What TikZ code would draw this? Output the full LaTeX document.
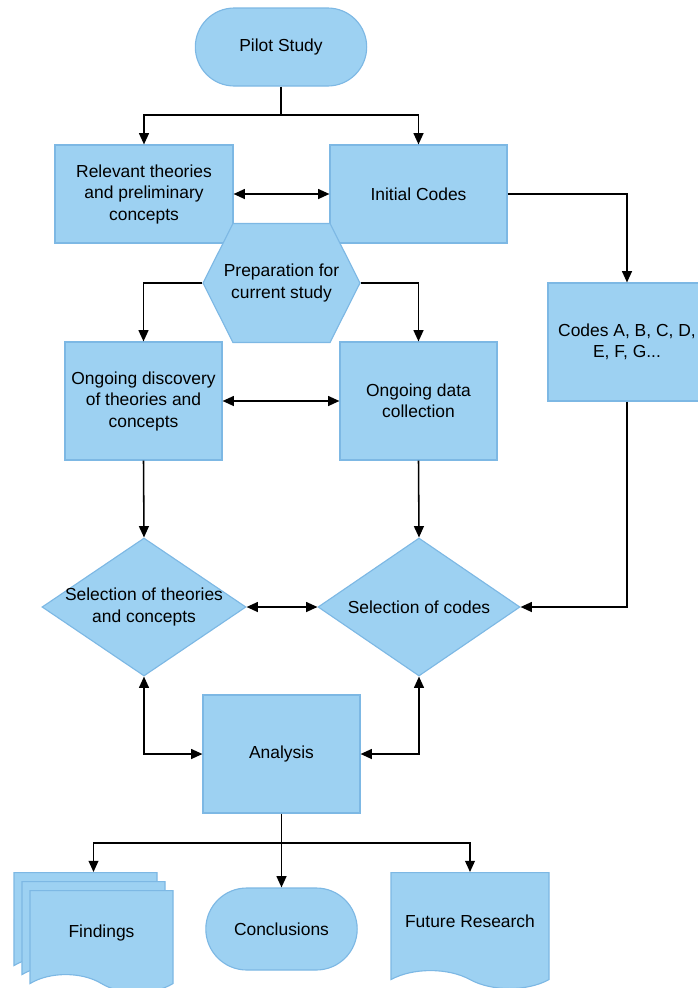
\documentclass[tikz,border=0pt]{standalone}
\usepackage{fontspec}
\setmainfont{Liberation Sans}
\usetikzlibrary{shapes}
\usetikzlibrary{shapes.geometric}
\usetikzlibrary{shapes.symbols}
\usetikzlibrary{shapes.misc}
\usetikzlibrary{arrows.meta}
\definecolor{boxfill}{RGB}{157,209,242}
\definecolor{boxline}{RGB}{125,184,228}
\tikzset{
    base/.style = {draw=boxline, line width=0.8pt, fill=boxfill, align=center, inner sep=2pt},
    boxnode/.style = {base, rectangle},
    termnode/.style = {base, rounded rectangle},
    decnode/.style = {base, diamond, inner sep=0pt},
    prepnode/.style = {base, signal, signal to=west and east, signal pointer angle=126.5, inner sep=0pt},
    docnode/.style = {base, tape, tape bend top=none, tape bend bottom=out and in, tape bend height=0.45cm},
    edgen/.style = {-{Triangle[length=8pt,width=7pt]}, line width=1.1pt},
    edgeb/.style = {{Triangle[length=8pt,width=7pt]}-{Triangle[length=8pt,width=7pt]}, line width=1.1pt},
    every picture/.style={font issue=\fontsize{12.4pt}{15.3pt}},
    font issue/.style={execute at begin picture={#1\selectfont}
  }
}

\begin{document}
\begin{tikzpicture}
  \useasboundingbox (0,0) rectangle (17.425,-24.7);

  \node[termnode, minimum width=4.425cm, minimum height=1.95cm] at (7.025,-1.175) (pilot) {Pilot Study};

  \node[boxnode, minimum width=4.45cm, minimum height=2.45cm] at (3.6,-4.85) (theo) {Relevant theories\\and preliminary\\concepts};
  \node[boxnode, minimum width=4.425cm, minimum height=2.45cm] at (10.4625,-4.85) (init) {Initial Codes};

  \node[prepnode, minimum width=3.925cm, minimum height=2.975cm, label={[align=center]center:Preparation for\\current study}] at (7.0375,-7.075) (prep) {};

  \node[boxnode, minimum width=3.925cm, minimum height=2.95cm] at (3.5875,-10.025) (disc) {Ongoing discovery\\of theories and\\concepts};
  \node[boxnode, minimum width=3.925cm, minimum height=2.95cm] at (10.4625,-10.025) (coll) {Ongoing data\\collection};
  \node[boxnode, minimum width=3.95cm, minimum height=2.95cm] at (15.675,-8.55) (codes) {Codes A, B, C, D,\\E, F, G...};

  \node[decnode, minimum width=5.1cm, minimum height=3.45cm, label={[align=center]center:Selection of theories\\and concepts}] at (3.6,-15.175) (sel1) {};
  \node[decnode, minimum width=5.05cm, minimum height=3.45cm, label={center:Selection of codes}] at (10.475,-15.175) (sel2) {};

  \node[boxnode, minimum width=3.925cm, minimum height=2.95cm] at (7.0375,-18.85) (ana) {Analysis};

  % findings: stacked sheets
  \node[docnode, minimum width=3.575cm, minimum height=2.55cm, anchor=north] at (2.1375,-21.8) (fnd3) {};
  \node[docnode, minimum width=3.575cm, minimum height=2.55cm, anchor=north] at (2.3375,-22.025) (fnd2) {};
  \node[docnode, minimum width=3.575cm, minimum height=2.55cm, anchor=north] at (2.5375,-22.25) (fnd) {Findings};
  \node[termnode, minimum width=3.925cm, minimum height=2.05cm] at (7.0375,-23.225) (concl) {Conclusions};
  \node[docnode, minimum width=3.95cm, minimum height=2.9cm, anchor=north] at (11.75,-21.8) (fut) {Future Research};

  \coordinate (split1) at (7.025,-2.875);
  \coordinate (split2) at (7.0375,-21.075);

  \draw[line width=1.1pt] (pilot.south) -- (split1);
  \draw[edgen] (split1) -| (theo.north);
  \draw[edgen] (split1) -| (init.north);
  \draw[edgeb] (theo.east) -- (init.west);
  \draw[edgen] (init.east) -| (codes.north);
  \draw[edgen] (prep.west) -| (disc.north);
  \draw[edgen] (prep.east) -| (coll.north);
  \draw[edgeb] (disc.east) -- (coll.west);
  \draw[edgen] (disc.south) -- (sel1.north);
  \draw[edgen] (coll.south) -- (sel2.north);
  \draw[edgeb] (sel1.east) -- (sel2.west);
  \draw[edgen] (codes.south) |- (sel2.east);
  \draw[edgeb] (sel1.south) |- (ana.west);
  \draw[edgeb] (sel2.south) |- (ana.east);

  \draw[line width=1.1pt] (ana.south) -- (split2);
  \draw[edgen] (split2) -| (fnd2.north |- fnd3.north);
  \draw[edgen] (split2) -- (concl.north);
  \draw[edgen] (split2) -| (fut.north);
\end{tikzpicture}
\end{document}
